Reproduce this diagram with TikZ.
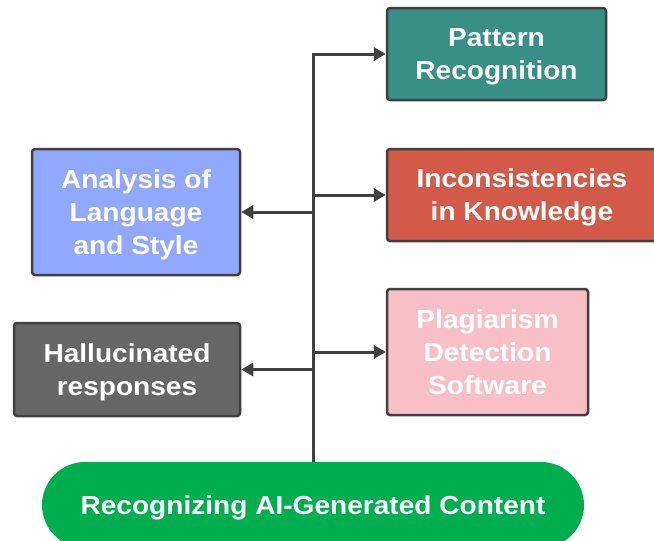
\documentclass[tikz,border=0pt]{standalone}
\usepackage{fontspec}
\setmainfont{Liberation Sans}[FakeStretch=1.08]
\usetikzlibrary{arrows.meta,shapes,positioning}
\definecolor{rgteal}{RGB}{55,143,134}
\definecolor{rgred}{RGB}{211,90,72}
\definecolor{rgblue}{RGB}{146,168,254}
\definecolor{rggray}{RGB}{102,102,102}
\definecolor{rgpink}{RGB}{248,192,198}
\definecolor{rggreen}{RGB}{0,174,80}
\definecolor{rgline}{RGB}{64,64,64}
\tikzstyle{arrow} = [line width=3pt,-{Triangle[length=12pt,width=13pt]},color=rgline]
\tikzstyle{trunk} = [line width=3pt,color=rgline]
\tikzstyle{ideabox} = [rectangle, rounded corners=3pt, draw=rgline, line width=2.5pt, text=white, align=center, text depth=0pt, font=\fontsize{26}{33}\selectfont\bfseries]
\tikzstyle{rootbox} = [rectangle, rounded corners=43pt, fill=rggreen, text=white, text depth=0pt, font=\fontsize{26}{33}\selectfont\bfseries]

\begin{document}
\begin{tikzpicture}[x=1pt,y=-1pt]
\useasboundingbox (0,0) rectangle (654,541);
% Root
\node[rootbox, minimum width=542pt, minimum height=86pt] (root) at (313,505) {Recognizing AI-Generated Content};

% Right side
\node[ideabox, fill=rgteal, minimum width=219pt, minimum height=92pt] (pattern) at (496.5,54) {Pattern\\Recognition};
\node[ideabox, fill=rgred, minimum width=270pt, minimum height=92pt] (incons) at (522,195) {Inconsistencies\\in Knowledge};
\node[ideabox, fill=rgpink, minimum width=201pt, minimum height=126pt] (plag) at (487.5,352) {Plagiarism\\Detection\\Software};

% Left side
\node[ideabox, fill=rgblue, minimum width=208pt, minimum height=126pt] (analysis) at (136,212) {Analysis of\\Language\\and Style};
\node[ideabox, fill=rggray, minimum width=226pt, minimum height=93pt] (halluc) at (127,369.5) {Hallucinated\\responses};

% Arrows
\draw[trunk] (root.north) -- (root.north |- pattern.west);
\draw[arrow] ([xshift=-1.5pt]root.north |- pattern.west) -- (pattern.west);
\draw[arrow] (root.north |- incons.west) -- (incons.west);
\draw[arrow] (root.north |- analysis.east) -- (analysis.east);
\draw[arrow] (root.north |- plag.west) -- (plag.west);
\draw[arrow] (root.north |- halluc.east) -- (halluc.east);
\end{tikzpicture}
\end{document}
